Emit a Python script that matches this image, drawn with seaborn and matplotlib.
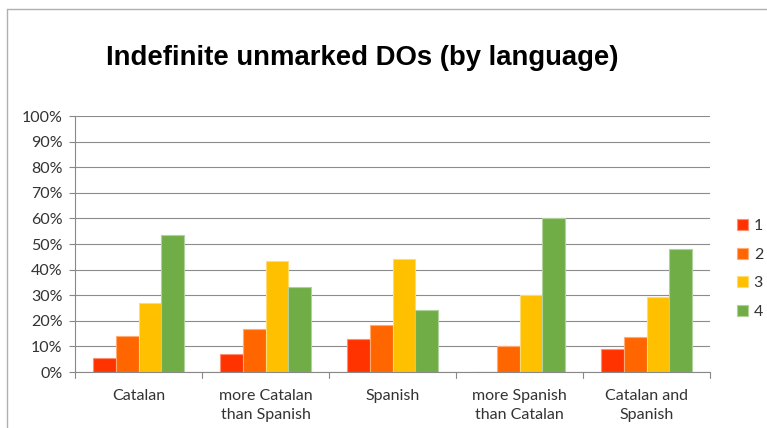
import matplotlib
matplotlib.use("Agg")
import matplotlib.pyplot as plt
import matplotlib.colors as mcolors
from matplotlib.patches import Patch
from matplotlib.lines import Line2D
import seaborn as sns
import pandas as pd

categories = ["Catalan", "more Catalan\nthan Spanish", "Spanish",
              "more Spanish\nthan Catalan", "Catalan and\nSpanish"]
series = ["1", "2", "3", "4"]
values = {
    "1": [5.6, 6.9, 12.8, 0.0, 9.0],
    "2": [14.0, 16.7, 18.5, 10.0, 13.8],
    "3": [27.0, 43.4, 44.3, 30.0, 29.2],
    "4": [53.4, 33.2, 24.1, 60.0, 48.0],
}
colors = ["#FF3300", "#FF6600", "#FFC000", "#70AD47"]
y_ticks = list(range(0, 101, 10))
y_labels = [f"{t}%" for t in y_ticks]
title = "Indefinite unmarked DOs (by language)"

rows = []
for s in series:
    for c, v in zip(categories, values[s]):
        rows.append({"category": c, "series": s, "value": v})
df = pd.DataFrame(rows)

sns.set_theme(style="white")
plt.rcParams["font.family"] = ["Lato", "DejaVu Sans"]

fig = plt.figure(figsize=(7.67, 4.28), dpi=100)
W, H = 767, 428
ax = fig.add_axes([75 / W, (H - 372) / H, 635 / W, 256 / H])

sns.barplot(data=df, x="category", y="value", hue="series",
            palette=colors, order=categories, hue_order=series,
            width=0.72, ax=ax, legend=False, saturation=1)


def lighter(c):
    return tuple(0.55 * x + 0.45 for x in mcolors.to_rgb(c))


# lighter outline on each bar
for bar in ax.patches:
    bar.set_edgecolor(lighter(bar.get_facecolor()))
    bar.set_linewidth(0.8)

label_color = "#333333"
ax.set_ylim(0, 100)
ax.set_xlim(-0.5, len(categories) - 0.5)
ax.set_yticks(y_ticks)
ax.set_yticklabels(y_labels, fontsize=11.5, color=label_color)
ax.set_xticks(range(len(categories)))
ax.set_xticklabels(categories, fontsize=11.5, color=label_color, linespacing=1.45)
ax.tick_params(axis="x", length=0, pad=12)
ax.tick_params(axis="y", length=4, color="#888888", width=0.8, pad=5, left=True)
ax.set_xlabel("")
ax.set_ylabel("")

ax.yaxis.grid(True, color="#8c8c8c", linewidth=0.8)
ax.set_axisbelow(True)
for side in ["top", "right"]:
    ax.spines[side].set_visible(False)
for side in ["left", "bottom"]:
    ax.spines[side].set_color("#888888")
    ax.spines[side].set_linewidth(0.8)

# category separator ticks below the x axis
for b in range(len(categories) + 1):
    ax.add_line(Line2D([b - 0.5, b - 0.5], [0, -2.2], color="#888888",
                       linewidth=0.8, clip_on=False))

handles = [Patch(facecolor=c, edgecolor=lighter(c), linewidth=0.8) for c in colors]
ax.legend(handles, series, loc="upper left", bbox_to_anchor=(729 / W, 1 - 211 / H),
          bbox_transform=fig.transFigure, frameon=False, fontsize=11.5,
          handlelength=0.7, handleheight=0.7, handletextpad=0.35,
          labelspacing=0.9, borderpad=0, labelcolor=label_color)

fig.text(362 / W, 1 - 58 / H, title, ha="center", va="center",
         fontsize=19.8, fontweight="bold", family="Liberation Sans", color="#000000")

# outer chart frame
fig.add_artist(Line2D([7 / W, 7 / W], [0, 1 - 9 / H], transform=fig.transFigure,
                      color="#b0b0b0", linewidth=1))
fig.add_artist(Line2D([7 / W, 1], [1 - 9 / H, 1 - 9 / H], transform=fig.transFigure,
                      color="#b0b0b0", linewidth=1))

fig.savefig("out.png", dpi=100)
